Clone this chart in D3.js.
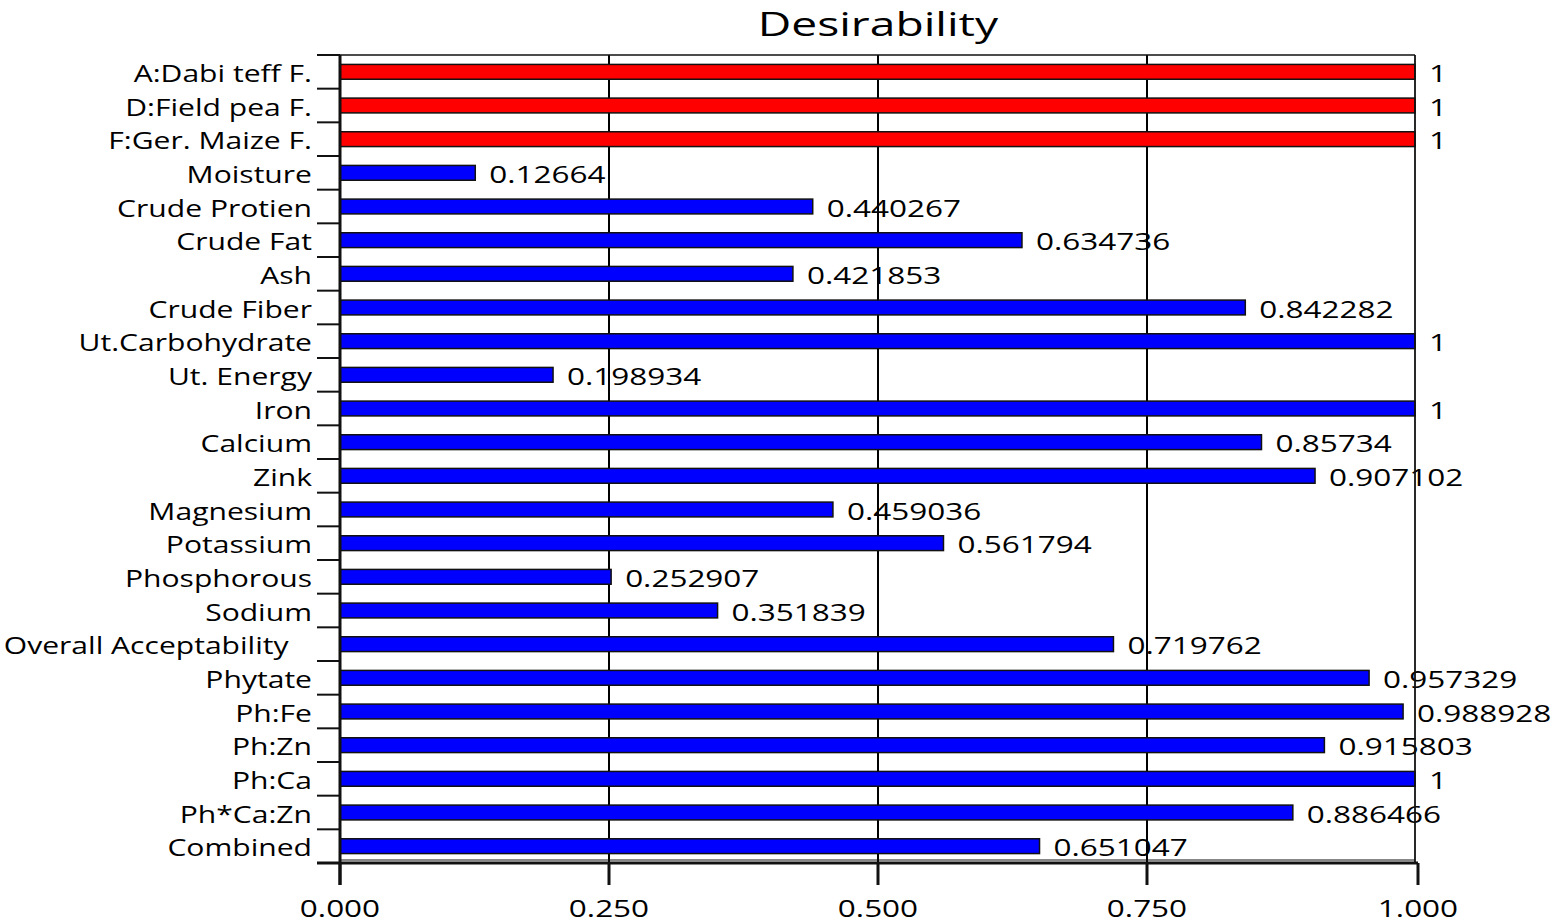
<!DOCTYPE html>
<html>
<head>
<meta charset="utf-8">
<script src="https://cdn.jsdelivr.net/npm/d3@7/dist/d3.min.js"></script>
<style>
  html, body { margin: 0; padding: 0; background: #fff; }
  svg { display: block; }
  text { font-family: "Open Sans", "Noto Sans", sans-serif; fill: #000; }
</style>
</head>
<body>
<svg id="chart" width="1559" height="923"></svg>
<script>
// ---- data ----
const categories = [
  "A:Dabi teff F.", "D:Field pea F.", "F:Ger. Maize F.", "Moisture", "Crude Protien",
  "Crude Fat", "Ash", "Crude Fiber", "Ut.Carbohydrate", "Ut. Energy", "Iron",
  "Calcium", "Zink", "Magnesium", "Potassium", "Phosphorous", "Sodium",
  "Overall Acceptability", "Phytate", "Ph:Fe", "Ph:Zn", "Ph:Ca", "Ph*Ca:Zn", "Combined"
];
const values = [
  1, 1, 1, 0.12664, 0.440267,
  0.634736, 0.421853, 0.842282, 1, 0.198934, 1,
  0.85734, 0.907102, 0.459036, 0.561794, 0.252907, 0.351839,
  0.719762, 0.957329, 0.988928, 0.915803, 1, 0.886466, 0.651047
];
const factorCategories = ["A:Dabi teff F.", "D:Field pea F.", "F:Ger. Maize F."];
const xTicks = [0, 0.25, 0.5, 0.75, 1];
const titleText = "Desirability";
const labelSuffix = { "Overall Acceptability": "\u00a0\u00a0\u00a0" };

(function () {
// ---- layout ----
const svg = d3.select("#chart");
const pL = 340, pR = 1416, pT = 55, pB = 863;

const x = d3.scaleLinear().domain([0, 1]).range([pL, pR]);
const y = d3.scaleBand().domain(categories).range([pT, pB])
  .paddingInner(0.56).paddingOuter(0.28);
const step = y.step();

const rows = categories.map((c, i) => ({ c, v: values[i], factor: factorCategories.includes(c) }));

function stretchedText(g, txt, tx, ty, size, anchor, sx) {
  return g.append("text")
    .attr("transform", `translate(${tx},${ty}) scale(${sx},1)`)
    .attr("text-anchor", anchor)
    .style("font-size", size + "px")
    .text(txt);
}

// title
stretchedText(svg, titleText, (pL + pR) / 2, 36, 33, "middle", 1.4);

// value labels (drawn below grid lines)
const vl = svg.append("g");
rows.forEach(d => {
  stretchedText(vl, String(d.v), x(d.v) + 13, y(d.c) + y.bandwidth() / 2 + 10, 23.5, "start", 1.34);
});

// vertical grid lines
svg.append("g")
  .selectAll("line")
  .data(xTicks.filter(t => t > 0 && t < 1))
  .join("line")
  .attr("x1", d => x(d)).attr("x2", d => x(d))
  .attr("y1", pT).attr("y2", pB)
  .attr("stroke", "#000").attr("stroke-width", 2);

// bars
svg.append("g")
  .selectAll("rect")
  .data(rows)
  .join("rect")
  .attr("x", x(0))
  .attr("y", d => y(d.c))
  .attr("width", d => x(d.v) - x(0) - 1)
  .attr("height", y.bandwidth())
  .attr("fill", d => d.factor ? "#ff0000" : "#0000ff")
  .attr("stroke", "#111")
  .attr("stroke-width", 1.5);

// frame: top and right
svg.append("line").attr("x1", pL - 23).attr("x2", pR - 1).attr("y1", pT).attr("y2", pT)
  .attr("stroke", "#111").attr("stroke-width", 1.5);
svg.append("line").attr("x1", pR - 1).attr("x2", pR - 1).attr("y1", pT).attr("y2", pB)
  .attr("stroke", "#111").attr("stroke-width", 1.8);
// thin inner bottom line
svg.append("line").attr("x1", pL).attr("x2", pR - 1).attr("y1", pB - 3).attr("y2", pB - 3)
  .attr("stroke", "#111").attr("stroke-width", 1.2);

// left axis: boundary ticks
const boundaries = categories.map(c => y(c) + y.bandwidth() / 2 - step / 2)
  .concat([y(categories[categories.length - 1]) + y.bandwidth() / 2 + step / 2]);
svg.append("g").selectAll("line").data(boundaries).join("line")
  .attr("x1", pL - 23).attr("x2", pL).attr("y1", d => d).attr("y2", d => d)
  .attr("stroke", "#111").attr("stroke-width", 2);
svg.append("line").attr("x1", pL).attr("x2", pL).attr("y1", pT).attr("y2", pB + 22)
  .attr("stroke", "#111").attr("stroke-width", 3);

// left category labels
const yl = svg.append("g");
categories.forEach(c => {
  stretchedText(yl, c + (labelSuffix[c] || ""), pL - 28, y(c) + y.bandwidth() / 2 + 10, 23.5, "end", 1.28);
});

// bottom axis
const xAxis = d3.axisBottom(x).tickValues(xTicks).tickFormat(d3.format(".3f"))
  .tickSize(22).tickSizeOuter(0);
const gx = svg.append("g").attr("transform", `translate(0,${pB})`).call(xAxis);
gx.select(".domain").attr("stroke", "#111").attr("stroke-width", 3)
  .attr("d", `M${pL - 23},0H${pR + 2}`);
gx.selectAll(".tick line").attr("stroke", "#111").attr("stroke-width", 3);
gx.selectAll(".tick").attr("transform", d => `translate(${x(d) + (d === 1 ? 2 : 0)},0)`);
gx.selectAll(".tick text").remove();
gx.selectAll(".tick").each(function(d) {
  stretchedText(d3.select(this), d3.format(".3f")(d), 0, 54, 23.5, "middle", 1.34);
});
})();
</script>
</body>
</html>
